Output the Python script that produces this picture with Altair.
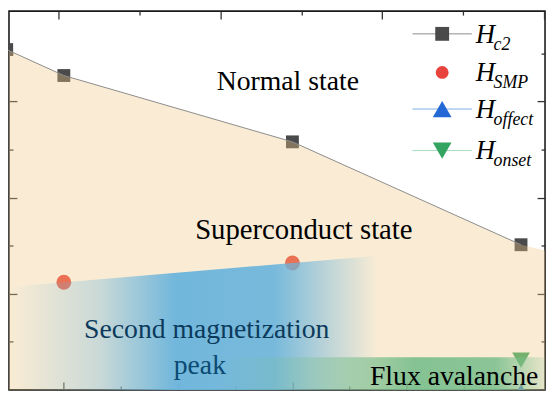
import altair as alt
import pandas as pd

# ---- data ----
T_c2 = [1.5, 2.0, 4.0, 6.0]
H_c2 = [3.54, 3.27, 2.58, 1.51]
T_smp = [2.0, 4.0]
H_smp = [1.12, 1.32]
T_offect = [6.0]
H_offect = [-0.02]
T_onset = [6.0]
H_onset = [0.31]

# region boundaries
normal_T = [1.52, 2.0, 4.0, 6.0, 6.21]
normal_H = [3.53, 3.27, 2.58, 1.51, 1.45]
smp_T = [1.52, 4.75]
smp_H = [1.07, 1.395]
flux_T = [3.35, 6.21]
flux_H = [0.34, 0.34]

# ticks
bottom_ticks = [2, 2.5, 3, 3.5, 4, 4.5, 5, 5.5, 6]
top_ticks = [1, 1.5, 2, 2.5, 3, 3.5, 4]
y_ticks = [0.5, 1, 1.5, 2, 2.5, 3, 3.5]

# annotations: text, T, H (vertical centre)
ann_text = ["Normal state", "Superconduct state", "Second magnetization", "peak", "Flux avalanche"]
ann_T = [3.96, 4.10, 3.25, 3.19, 5.415]
ann_H = [3.20, 1.66, 0.62, 0.25, 0.137]
ann_color = [None, None, "#0b3a5c", "#0b4a72", None]
ann_size = [28, 29, 28, 28, 28]

# legend
leg_main = ["H", "H", "H", "H"]
leg_sub = ["c2", "SMP", "offect", "onset"]
leg_shape = ["square", "circle", "triangle-up", "triangle-down"]
leg_color = ["#4a4a4a", "#e8433c", "#2468d6", "#33a560"]
leg_line = ["#8c8c8c", None, "#7fb0e2", "#a6dcc0"]
leg_size = [196, 169, 360, 360]

W, H = 542, 383
FONT = "Liberation Serif"

tick_size = {"condition": {"test": "datum.value % 1 === 0", "value": 8}, "value": 4}


def axis(orient, values, offset):
    return alt.Axis(orient=orient, offset=offset, values=values, labels=False,
                    domain=False, grid=False, ticks=True, tickSize=tick_size,
                    tickColor="#333333", tickWidth=1.3, title=None)


xs = alt.Scale(domain=[1.52, 6.21], nice=False, zero=False)
ys = alt.Scale(domain=[0, 3.94], nice=False, zero=False)
x_axis = axis("top", bottom_ticks, -H)
y_axis = axis("right", y_ticks, -W)


def X(f="T"):
    return alt.X(f"{f}:Q", scale=xs, axis=x_axis)


def Y(f="H"):
    return alt.Y(f"{f}:Q", scale=ys, axis=y_axis)


df_c2 = pd.DataFrame({"T": T_c2, "H": H_c2})
df_smp = pd.DataFrame({"T": T_smp, "H": H_smp})
df_off = pd.DataFrame({"T": T_offect, "H": H_offect})
df_on = pd.DataFrame({"T": T_onset, "H": H_onset})
df_normal = pd.DataFrame({"T": normal_T, "H": normal_H})
df_smpreg = pd.DataFrame({"T": smp_T, "H": smp_H})
df_flux = pd.DataFrame({"T": flux_T, "H": flux_H})
one = pd.DataFrame({"a": [0]})

layers = []
layers.append(alt.Chart(df_c2).mark_point(shape="square", filled=True, size=169, color="#4a4a4a", opacity=1, clip=True).encode(x=X(), y=Y()))
layers.append(alt.Chart(df_smp).mark_point(shape="circle", filled=True, size=225, color="#e8433c", opacity=1, clip=True).encode(x=X(), y=Y()))
layers.append(alt.Chart(df_off).mark_point(shape="triangle-up", filled=True, size=324, color="#2468d6", opacity=1, clip=True).encode(x=X(), y=Y()))
layers.append(alt.Chart(df_on).mark_point(shape="triangle-down", filled=True, size=324, color="#33a560", opacity=1, clip=True).encode(x=X(), y=Y()))

layers.append(alt.Chart(df_normal).mark_area(color="#F1C984", opacity=0.35, interpolate="linear")
              .encode(x=X(), y=Y(), y2=alt.datum(0)))

blue_grad = {"gradient": "linear", "x1": 0, "y1": 0, "x2": 1, "y2": 0, "stops": [
    {"offset": 0.0, "color": "rgba(106,180,220,0)"},
    {"offset": 0.25, "color": "rgba(106,180,220,0.35)"},
    {"offset": 0.45, "color": "rgba(106,180,220,0.95)"},
    {"offset": 0.72, "color": "rgba(106,180,220,0.9)"},
    {"offset": 0.87, "color": "rgba(106,180,220,0.4)"},
    {"offset": 1.0, "color": "rgba(106,180,220,0)"}]}
layers.append(alt.Chart(df_smpreg).mark_area(color=blue_grad, opacity=1)
              .encode(x=X(), y=Y(), y2=alt.datum(0)))

green_grad = {"gradient": "linear", "x1": 0, "y1": 0, "x2": 1, "y2": 0, "stops": [
    {"offset": 0.0, "color": "rgba(120,190,140,0)"},
    {"offset": 0.3, "color": "rgba(120,190,140,0.35)"},
    {"offset": 0.6, "color": "rgba(120,190,140,0.9)"},
    {"offset": 0.85, "color": "rgba(120,190,140,0.85)"},
    {"offset": 1.0, "color": "rgba(120,190,140,0.15)"}]}
layers.append(alt.Chart(df_flux).mark_area(color=green_grad, opacity=1)
              .encode(x=X(), y=Y(), y2=alt.datum(0)))

layers.append(alt.Chart(df_c2).mark_line(color="#8c8c8c", strokeWidth=1, interpolate="linear")
              .encode(x=X(), y=Y()))

for t, tx, hy, c, fs in zip(ann_text, ann_T, ann_H, ann_color, ann_size):
    kw = dict(text=t, font=FONT, fontSize=fs, align="center")
    if c:
        kw["fill"] = c
    layers.append(alt.Chart(one).mark_text(**kw)
                  .encode(x=alt.XDatum(tx, type="quantitative", scale=xs),
                          y=alt.YDatum(hy, type="quantitative", scale=ys)))

# legend (pixel positions inside the plot area)
leg_y = [23, 62, 99, 141]
for i in range(4):
    yy = leg_y[i]
    if leg_line[i]:
        layers.append(alt.Chart(one).mark_rule(color=leg_line[i], strokeWidth=1)
                      .encode(x=alt.value(408), x2=alt.value(468), y=alt.value(yy)))
    layers.append(alt.Chart(one).mark_point(shape=leg_shape[i], filled=True, size=leg_size[i], color=leg_color[i], opacity=1)
                  .encode(x=alt.value(438), y=alt.value(yy)))
    layers.append(alt.Chart(one).mark_text(text=leg_main[i], font=FONT, fontSize=27, fontStyle="italic", align="left")
                  .encode(x=alt.value(472), y=alt.value(yy + 1)))
    layers.append(alt.Chart(one).mark_text(text=leg_sub[i], font=FONT, fontSize=18, fontStyle="italic", align="left")
                  .encode(x=alt.value(490), y=alt.value(yy + 11)))

main = alt.layer(*layers)

df_top = pd.DataFrame({"t": [top_ticks[0]], "v": [y_ticks[0]]})
top = alt.Chart(df_top).mark_point(opacity=0).encode(
    x=alt.X("t:Q", scale=alt.Scale(domain=[0.6945, 4.006], nice=False, zero=False), axis=axis("bottom", top_ticks, -H)),
    y=alt.Y("v:Q", scale=alt.Scale(domain=[0, 3.94], nice=False, zero=False), axis=axis("left", y_ticks, -W)),
)

chart = (
    alt.layer(main, top)
    .resolve_scale(x="independent", y="independent")
    .properties(width=W, height=H, padding={"left": 1, "top": 1, "right": 2, "bottom": 2},
                autosize=alt.AutoSizeParams(type="none"))
    .configure_view(stroke="#1a1a1a", strokeWidth=1.6)
)

chart.save("out.html", embed_options={"renderer": "svg", "actions": False})
